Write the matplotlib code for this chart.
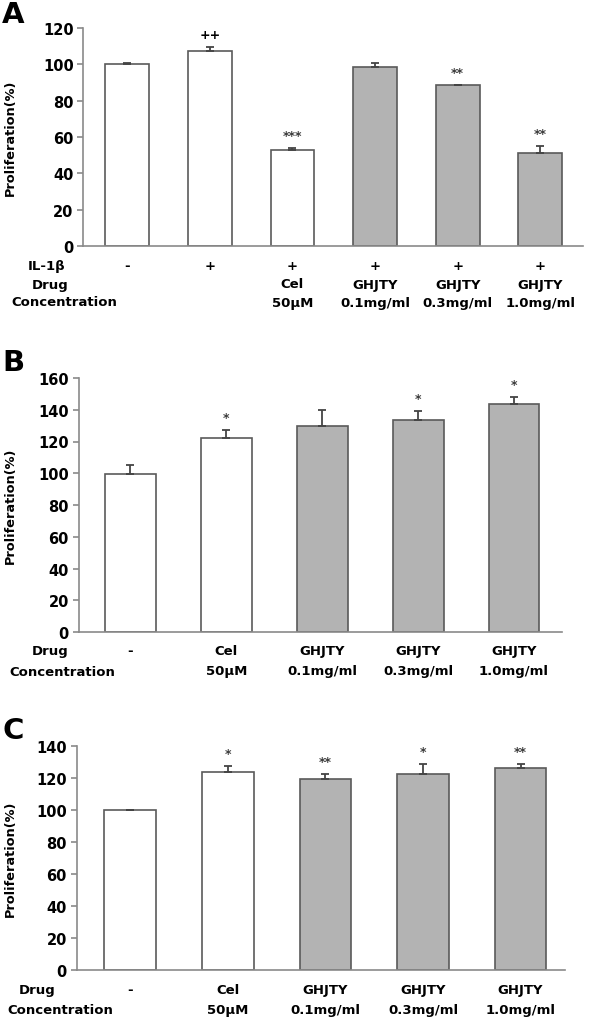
import matplotlib
matplotlib.use('Agg')
import matplotlib.pyplot as plt
import matplotlib.transforms as mtransforms
import numpy as np

plt.rcParams['font.family'] = ['DejaVu Sans']
plt.rcParams['font.weight'] = 'bold'

# panel A
a_values = [100, 107.6, 53.0, 98.3, 88.5, 51.0]
a_err = [0.8, 2.2, 1.0, 2.4, 0.3, 4.3]
a_marks = ['', '++', '***', '', '**', '**']
a_gray = [False, False, False, True, True, True]
a_il1b = ['-', '+', '+', '+', '+', '+']
a_drug = ['', '', 'Cel', 'GHJTY', 'GHJTY', 'GHJTY']
a_conc = ['', '', '50μM', '0.1mg/ml', '0.3mg/ml', '1.0mg/ml']

# panel B
b_values = [99.5, 122.0, 129.6, 133.7, 143.8]
b_err = [5.9, 5.5, 10.2, 5.3, 4.4]
b_marks = ['', '*', '', '*', '*']
b_gray = [False, False, True, True, True]
b_drug = ['-', 'Cel', 'GHJTY', 'GHJTY', 'GHJTY']
b_conc = ['', '50μM', '0.1mg/ml', '0.3mg/ml', '1.0mg/ml']

# panel C
c_values = [100.0, 123.7, 119.6, 122.8, 126.2]
c_err = [0.3, 3.5, 2.6, 6.2, 2.8]
c_marks = ['', '*', '**', '*', '**']
c_gray = [False, False, True, True, True]
c_drug = ['-', 'Cel', 'GHJTY', 'GHJTY', 'GHJTY']
c_conc = ['', '50μM', '0.1mg/ml', '0.3mg/ml', '1.0mg/ml']

W, H = 600, 1020
fig = plt.figure(figsize=(W / 100, H / 100), dpi=100)


def fy(px):
    return 1 - px / H


def panel(left, right, top, bottom, values, err, marks, gray, ymax,
          xlim, letter, letter_y, rows, ylabel_x=10.5):
    ax = fig.add_axes([left / W, fy(bottom), (right - left) / W, (bottom - top) / H])
    x = np.arange(len(values))
    colors = ['#b3b3b3' if g else 'white' for g in gray]
    ax.bar(x, values, width=0.53, color=colors, edgecolor='#5a5a5a', linewidth=1.2, zorder=2)
    ax.errorbar(x, values, yerr=[np.zeros(len(err)), err], fmt='none',
                ecolor='#444444', elinewidth=1.3, capsize=3, capthick=1.3, zorder=3)
    for xi, v, e, m in zip(x, values, err, marks):
        if m:
            c = 'black' if '+' in m else '#3a3a3a'
            ax.annotate(m, (xi, v + e), xytext=(0, 6.5), textcoords='offset points',
                        ha='center', va='baseline', fontsize=9, color=c,
                        fontweight='bold')
    ax.set_xlim(*xlim)
    ax.set_ylim(0, ymax)
    ax.set_yticks(np.arange(0, ymax + 1, 20))
    ax.set_xticks([])
    for s in ['top', 'right']:
        ax.spines[s].set_visible(False)
    for s in ['left', 'bottom']:
        ax.spines[s].set_color('#8a8a8a')
        ax.spines[s].set_linewidth(1.2)
    ax.tick_params(axis='y', length=4, width=1.2, color='#8a8a8a',
                   labelsize=10.5, labelcolor='black', pad=3)
    for t in ax.get_yticklabels():
        t.set_fontweight('bold')
    fig.text(ylabel_x / W, fy((top + bottom) / 2), 'Proliferation(%)', rotation=90,
             ha='center', va='center', fontsize=9.3, fontweight='bold')
    fig.text(2 / W, fy(letter_y), letter, ha='left', va='top', fontsize=21,
             fontweight='bold')
    trans = mtransforms.blended_transform_factory(ax.transData, fig.transFigure)
    for name, name_x, row_y, labels in rows:
        fig.text(name_x / W, fy(row_y), name, ha='left', va='center',
                 fontsize=9.5, fontweight='bold')
        for xi, lab in zip(x, labels):
            if lab:
                ax.text(xi, fy(row_y), lab, transform=trans, ha='center', va='center',
                        fontsize=9.5, fontweight='bold')
    return ax


panel(83.4, 582.5, 29, 247, a_values, a_err, a_marks, a_gray, 120,
      (-0.53, 5.51), 'A', 1,
      [('IL-1β', 28, 267, a_il1b), ('Drug', 32, 285, a_drug),
       ('Concentration', 11, 303, a_conc)])

panel(78.5, 562, 379, 633, b_values, b_err, b_marks, b_gray, 160,
      (-0.54, 4.5), 'B', 349,
      [('Drug', 32, 652, b_drug), ('Concentration', 9, 672, b_conc)])

panel(76.5, 564.5, 747, 971, c_values, c_err, c_marks, c_gray, 140,
      (-0.55, 4.45), 'C', 717,
      [('Drug', 19, 991, c_drug), ('Concentration', 7, 1011, c_conc)])

fig.savefig('out.png', dpi=100)
